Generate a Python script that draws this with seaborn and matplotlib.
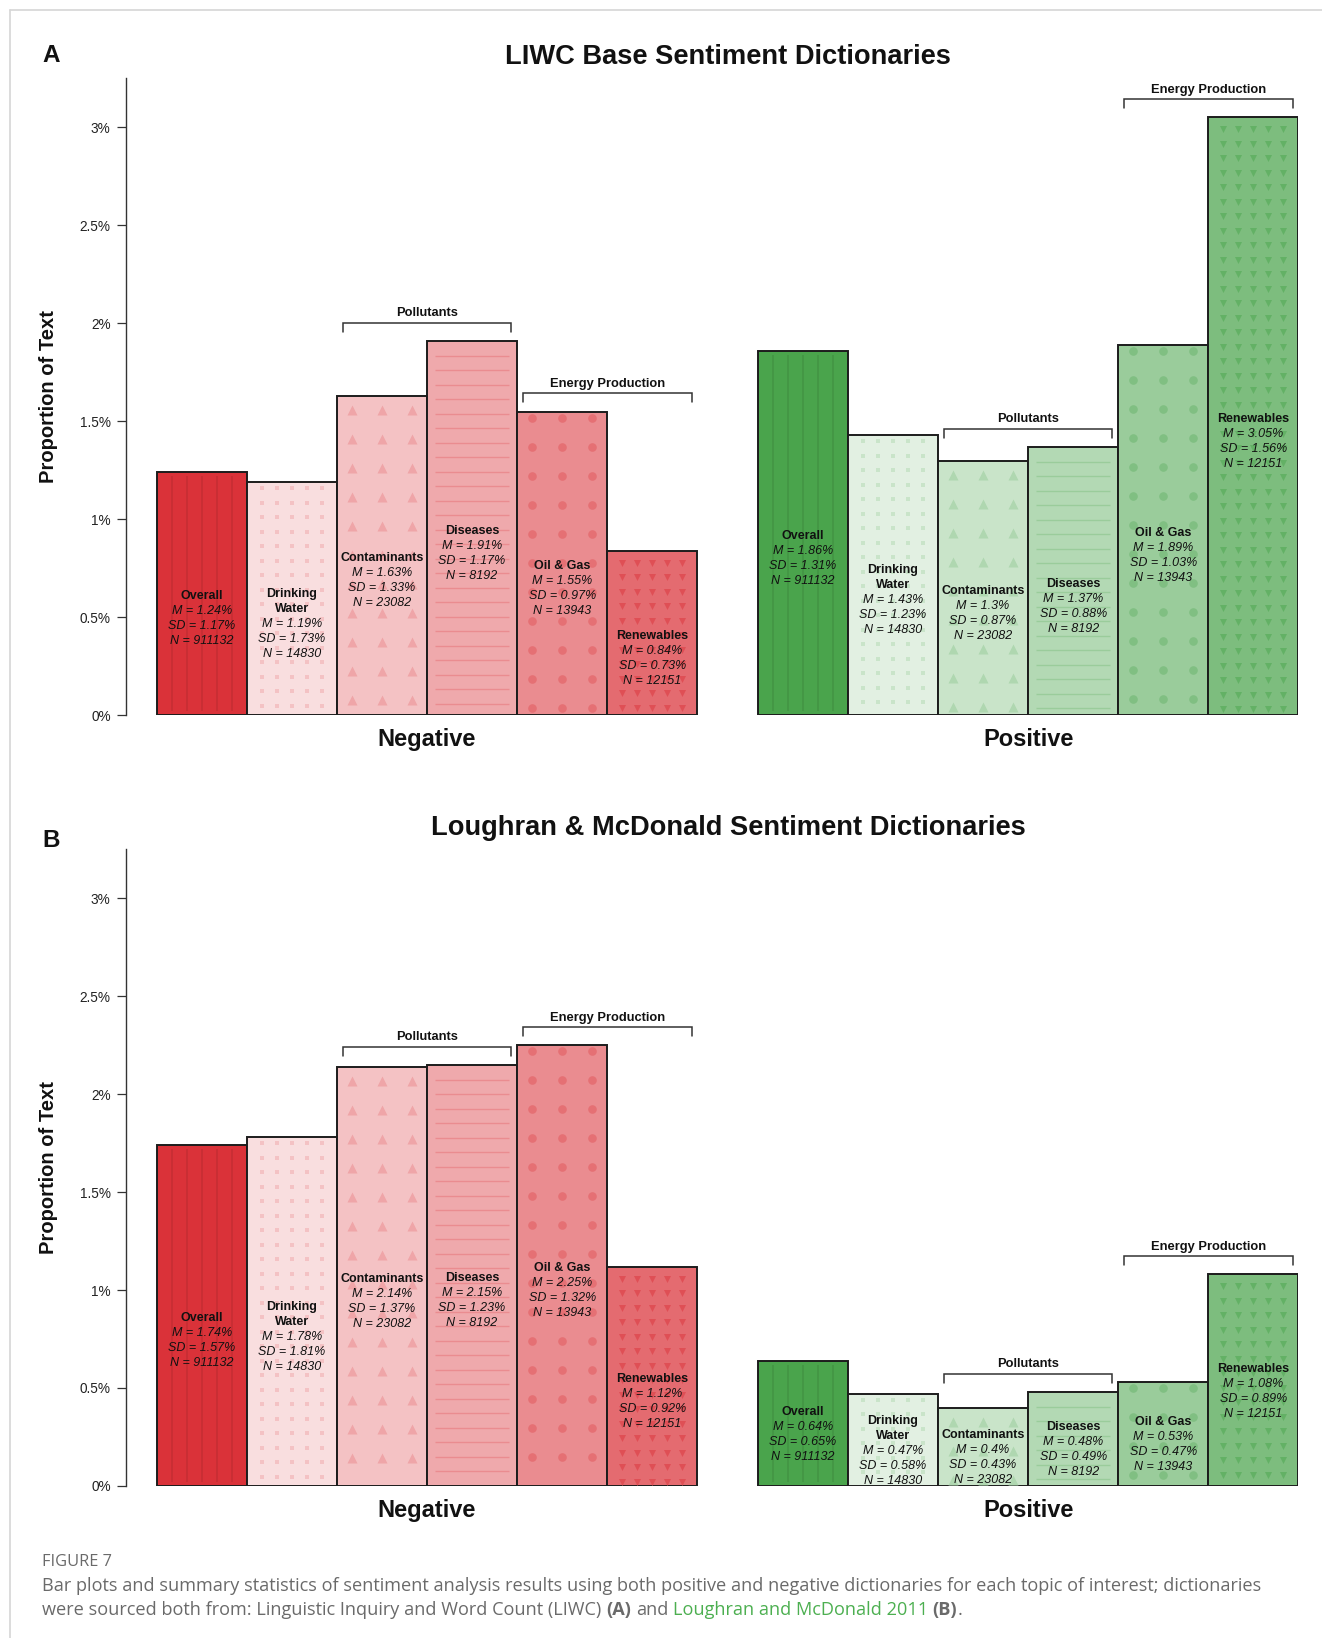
import numpy as np
import pandas as pd
import matplotlib
matplotlib.use("Agg")
import matplotlib.pyplot as plt
import seaborn as sns
from matplotlib.lines import Line2D
from matplotlib.ticker import FuncFormatter

# ------------------------------------------------------------------
# data
# ------------------------------------------------------------------
categories = ["Overall", "Drinking\nWater", "Contaminants", "Diseases", "Oil & Gas", "Renewables"]
sentiments = ["Negative", "Positive"]
n_counts = [911132, 14830, 23082, 8192, 13943, 12151]

liwc_neg_mean = [1.24, 1.19, 1.63, 1.91, 1.55, 0.84]
liwc_neg_sd = [1.17, 1.73, 1.33, 1.17, 0.97, 0.73]
liwc_pos_mean = [1.86, 1.43, 1.30, 1.37, 1.89, 3.05]
liwc_pos_sd = [1.31, 1.23, 0.87, 0.88, 1.03, 1.56]

lm_neg_mean = [1.74, 1.78, 2.14, 2.15, 2.25, 1.12]
lm_neg_sd = [1.57, 1.81, 1.37, 1.23, 1.32, 0.92]
lm_pos_mean = [0.64, 0.47, 0.40, 0.48, 0.53, 1.08]
lm_pos_sd = [0.65, 0.58, 0.43, 0.49, 0.47, 0.89]

brackets = [("Pollutants", 2, 3), ("Energy Production", 4, 5)]
yticks = [0, 0.5, 1, 1.5, 2, 2.5, 3]

panel_titles = ["LIWC Base Sentiment Dictionaries", "Loughran & McDonald Sentiment Dictionaries"]
panel_letters = ["A", "B"]

# ------------------------------------------------------------------
# style
# ------------------------------------------------------------------
sns.set_style("ticks")
plt.rcParams["font.family"] = ["Liberation Sans", "DejaVu Sans"]

base_colors = {"Negative": (218, 50, 57), "Positive": (74, 164, 76)}
fill_alpha = [1.0, 0.16, 0.30, 0.42, 0.56, 0.72]
patt_alpha = [None, 0.30, 0.44, 0.56, 0.70, 0.86]
pattern_kinds = ["vlines", "squares", "tri_up", "hlines", "circles", "tri_down"]


def tint(rgb, a):
    return tuple(1 - a * (1 - c / 255) for c in rgb)


def shade(rgb, f):
    return tuple(c / 255 * f for c in rgb)


GAP = 0.67
positions = np.concatenate([np.arange(6), 6 + GAP + np.arange(6)])


def draw_pattern(ax, kind, left, width, height, color, ppx, ppy):
    hpx = height * ppy
    if kind == "vlines":
        xs = left + width * np.arange(1, 6) / 6
        ax.vlines(xs, 4 / ppy, height - 4 / ppy, color=color, lw=1.1, zorder=2.5)
        return
    if kind == "hlines":
        offs = np.arange(15, hpx - 5, 14.5)
        ax.hlines(height - offs / ppy, left + 8 / ppx, left + width - 8 / ppx,
                  color=color, lw=1.0, zorder=2.5)
        return
    spec = {
        "squares": (5, 6, 14.5, "s", 4.2),
        "tri_up": (3, 14, 29, "^", 10),
        "circles": (3, 6, 29, "o", 8.6),
        "tri_down": (5, 12, 14.5, "v", 7),
    }[kind]
    ncol, first, step, marker, size = spec
    if ncol == 5:
        fr = np.arange(1, 6) / 6
    else:
        fr = np.array([1 / 6, 1 / 2, 5 / 6])
    offs = np.arange(first, hpx - 4, step)
    xx, oo = np.meshgrid(left + width * fr, offs)
    ax.scatter(xx.ravel(), (height - oo / ppy).ravel(), marker=marker,
               s=(size * 0.72) ** 2, color=color, linewidths=0, zorder=2.5)


def fmt(v):
    return f"{v:g}%"


def draw_panel(ax, neg_mean, neg_sd, pos_mean, pos_sd, label_lift):
    df = pd.DataFrame({
        "pos": positions,
        "mean": neg_mean + pos_mean,
        "sd": neg_sd + pos_sd,
        "sentiment": ["Negative"] * 6 + ["Positive"] * 6,
        "topic": categories * 2,
        "n": n_counts * 2,
    })
    sns.barplot(data=df, x="pos", y="mean", native_scale=True, width=1,
                errorbar=None, color="white", edgecolor="#1c1c1c",
                linewidth=1.4, ax=ax, zorder=2)
    ax.set_xlim(-0.836, 12.17)
    ax.set_ylim(0, 3.25)

    p0 = ax.transData.transform((0, 0))
    p1 = ax.transData.transform((1, 1))
    ppx, ppy = p1[0] - p0[0], p1[1] - p0[1]

    bars = sorted(ax.patches, key=lambda p: p.get_x())
    for bar, (_, row) in zip(bars, df.iterrows()):
        i = categories.index(row["topic"])
        rgb = base_colors[row["sentiment"]]
        bar.set_facecolor(tint(rgb, fill_alpha[i]))
        pc = shade(rgb, 0.9) if i == 0 else tint(rgb, patt_alpha[i])
        draw_pattern(ax, pattern_kinds[i], bar.get_x(), bar.get_width(),
                     bar.get_height(), pc, ppx, ppy)

        # label block: topic name centred on half the bar height, stats below
        lines = [(t, "bold", "normal") for t in row["topic"].split("\n")]
        k = len(lines)
        lines += [(f"M = {fmt(row['mean'])}", "normal", "italic"),
                  (f"SD = {fmt(row['sd'])}", "normal", "italic"),
                  (f"N = {row['n']}", "normal", "italic")]
        lift = label_lift[row["sentiment"]]
        for j, (txt, w, st) in enumerate(lines):
            off = -(j - (k - 1) / 2) * 10.8 + lift
            ax.annotate(txt, xy=(row["pos"], row["mean"] / 2), xytext=(0, off),
                        textcoords="offset points", ha="center", va="center",
                        fontsize=9.0, fontweight=w, fontstyle=st, color="#111111",
                        zorder=4)

    # brackets over topic groups
    for sent in sentiments:
        sub = df[df["sentiment"] == sent].reset_index(drop=True)
        for label, a, b in brackets:
            x0 = sub.loc[a, "pos"] - 0.5 + 0.065
            x1 = sub.loc[b, "pos"] + 0.5 - 0.065
            yl = max(sub.loc[a, "mean"], sub.loc[b, "mean"]) + 0.092
            tk = 0.045
            ax.plot([x0, x0, x1, x1], [yl - tk, yl, yl, yl - tk], color="#333333",
                    lw=1.1, solid_joinstyle="miter", zorder=3)
            ax.annotate(label, xy=((x0 + x1) / 2, yl), xytext=(0, 2.5),
                        textcoords="offset points", ha="center", va="bottom",
                        fontsize=9.3, fontweight="bold", color="#111111")
        centre = sub["pos"].mean()
        ax.annotate(sent, xy=(centre, 0), xycoords=("data", "axes fraction"),
                    xytext=(0, -17.5), textcoords="offset points", ha="center",
                    va="center", fontsize=17, fontweight="bold", color="#111111")

    sns.despine(ax=ax, bottom=True)
    ax.spines["left"].set_color("#333333")
    ax.spines["left"].set_linewidth(1.0)
    ax.set_xticks([])
    ax.set_yticks(yticks)
    ax.yaxis.set_major_formatter(FuncFormatter(lambda v, _: fmt(v)))
    ax.tick_params(axis="y", length=6.8, width=0.9, color="#333333", pad=4.5,
                   labelsize=9.8, labelcolor="#222222")
    ax.set_xlabel("")
    ax.set_ylabel("")


fig = plt.figure(figsize=(13.22, 16.38), dpi=100)
axA = fig.add_axes([0.0956, 0.5633, 0.8866, 0.3889])
axB = fig.add_axes([0.0956, 0.0929, 0.8866, 0.3885])
draw_panel(axA, liwc_neg_mean, liwc_neg_sd, liwc_pos_mean, liwc_pos_sd,
           {"Negative": -1.9, "Positive": -1.9})
draw_panel(axB, lm_neg_mean, lm_neg_sd, lm_pos_mean, lm_pos_sd,
           {"Negative": -1.9, "Positive": 8.3})

for ax, title, letter, ty, ly in zip([axA, axB], panel_titles, panel_letters,
                                     [0.9655, 0.4945], [0.966, 0.487]):
    fig.text(0.5507, ty, title, ha="center", va="center", fontsize=19.6,
             fontweight="bold", color="#111111")
    fig.text(0.0386, ly, letter, ha="center", va="center", fontsize=17.5,
             fontweight="bold", color="#111111")
    box = ax.get_position()
    fig.text(0.037, (box.y0 + box.y1) / 2, "Proportion of Text", rotation=90,
             ha="center", va="center", fontsize=14.5, fontweight="bold",
             color="#111111")

# light frame of the web page
fig.add_artist(Line2D([10.4 / 1322, 1], [1 - 10.4 / 1638] * 2, color="#d6d6d6", lw=1.2))
fig.add_artist(Line2D([10.4 / 1322] * 2, [0, 1 - 10.4 / 1638], color="#d6d6d6", lw=1.2))

# caption
cap_gray = "#6a6a6a"
cap_green = "#4caf50"
cap_font = ["Open Sans", "DejaVu Sans"]
fig.text(0.0318, 0.0463, "FIGURE 7", color=cap_gray, family=cap_font,
         fontsize=11.8, va="center")
cap_kw = dict(family=cap_font, fontsize=13.1, va="center")
fig.text(0.0318, 0.0317,
         "Bar plots and summary statistics of sentiment analysis results using both positive "
         "and negative dictionaries for each topic of interest; dictionaries",
         color=cap_gray, **cap_kw)

renderer = fig.canvas.get_renderer()
W = fig.get_figwidth() * fig.dpi


def text_w(s, **kw):
    t = fig.text(0, 0, s, **kw)
    w = t.get_window_extent(renderer).width
    t.remove()
    return w


space = text_w("x x", **cap_kw) - text_w("xx", **cap_kw)
pieces = [("were sourced both from: Linguistic Inquiry and Word Count (LIWC)", cap_gray, "normal", True),
          ("(A)", cap_gray, "bold", True),
          ("and", cap_gray, "normal", True),
          ("Loughran and McDonald 2011", cap_green, "normal", True),
          ("(B)", cap_gray, "bold", False),
          (".", cap_gray, "normal", False)]
x = 0.0318 * W
for s, c, w, gap_after in pieces:
    t = fig.text(x / W, 0.0170, s, color=c, fontweight=w, **cap_kw)
    x = t.get_window_extent(renderer).x1 + (space if gap_after else 0)

fig.savefig("out.png", dpi=100)
